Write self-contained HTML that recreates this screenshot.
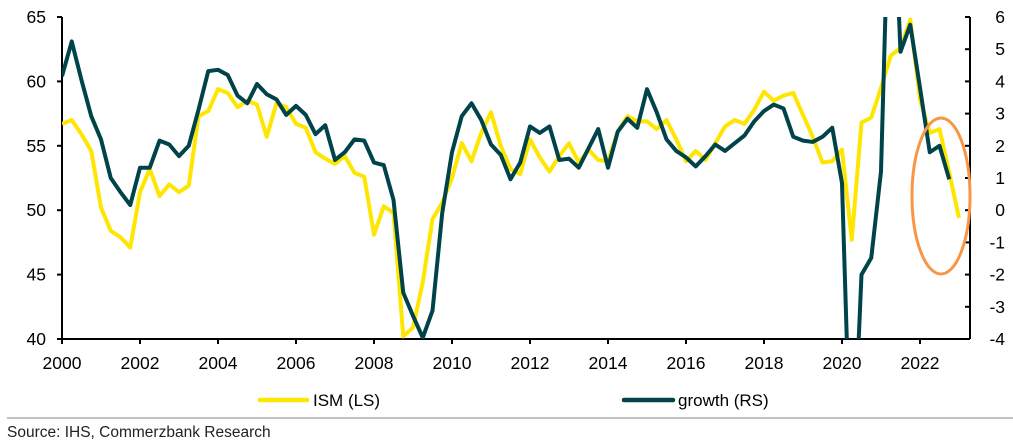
<!DOCTYPE html>
<html><head><meta charset="utf-8"><style>
html,body{margin:0;padding:0;background:#fff;width:1013px;height:443px;overflow:hidden;}
svg{display:block;font-family:"Liberation Sans",Arial,sans-serif;}
</style></head><body>
<svg id="chart" width="1013" height="443" viewBox="0 0 1013 443">
<defs><clipPath id="plotclip"><rect x="62" y="17" width="908" height="322"/></clipPath></defs>
<g id="axes"></g>
<g id="series" clip-path="url(#plotclip)"></g>
<ellipse cx="941" cy="196" rx="29" ry="78" fill="none" stroke="#f79646" stroke-width="3"/>
<g>
<line x1="260" y1="400" x2="307" y2="400" stroke="#ffe600" stroke-width="4.5" stroke-linecap="round"/>
<text x="313" y="406" font-size="17" fill="#000">ISM (LS)</text>
<line x1="624" y1="400" x2="673" y2="400" stroke="#00434a" stroke-width="4.5" stroke-linecap="round"/>
<text x="678" y="406" font-size="17" fill="#000">growth (RS)</text>
</g>
<line x1="7" y1="418" x2="1013" y2="418" stroke="#c0c0c0" stroke-width="2"/>
<text x="7" y="437" font-size="15.5" fill="#222">Source: IHS, Commerzbank Research</text>
</svg>
<script>
const years = [2000,2002,2004,2006,2008,2010,2012,2014,2016,2018,2020,2022];
const leftTicks = [40,45,50,55,60,65];
const rightTicks = [-4,-3,-2,-1,0,1,2,3,4,5,6];
const ism = [56.7,57.0,55.9,54.6,50.2,48.4,47.9,47.1,51.4,53.2,51.1,52.0,51.4,51.9,57.3,57.7,59.4,59.1,58.0,58.5,58.2,55.7,58.3,58.0,56.7,56.4,54.5,54.0,53.6,54.2,52.9,52.6,48.1,50.3,49.8,40.2,40.9,44.4,49.3,50.6,52.5,55.2,53.8,56.0,57.6,55.0,53.2,52.8,55.5,54.1,53.0,54.2,55.2,53.7,54.7,53.9,53.8,56.1,57.3,56.9,56.9,56.3,57.0,55.5,53.8,54.6,53.9,55.2,56.5,57.0,56.7,57.8,59.2,58.5,58.9,59.1,57.4,55.7,53.7,53.8,54.7,47.7,56.8,57.2,59.5,62.0,62.6,64.8,58.6,56.0,56.3,52.9,49.4];
const growth = [4.16,5.24,4.04,2.92,2.2,1.0,0.56,0.16,1.32,1.32,2.16,2.04,1.68,2.0,3.12,4.32,4.36,4.2,3.56,3.32,3.92,3.6,3.44,2.96,3.24,2.96,2.36,2.64,1.56,1.8,2.2,2.16,1.48,1.4,0.32,-2.56,-3.28,-3.96,-3.12,-0.08,1.8,2.92,3.32,2.8,2.04,1.72,0.96,1.48,2.6,2.4,2.6,1.56,1.6,1.32,1.92,2.52,1.32,2.44,2.84,2.56,3.76,3.04,2.2,1.84,1.64,1.36,1.68,2.04,1.84,2.08,2.32,2.76,3.08,3.28,3.16,2.28,2.16,2.12,2.28,2.56,0.84,-9.0,-2.0,-1.48,1.2,12.0,4.92,5.76,3.8,1.8,2.0,0.96];
const NS='http://www.w3.org/2000/svg';
const X0=62, PXYR=39, YT=17, YB=339;
function xq(i){return X0+PXYR*(i/4);}
function xy(yr){return X0+PXYR*(yr-2000);}
function yl(v){return YB-(v-40)/25*(YB-YT);}
function yr(v){return YB-(v+4)/10*(YB-YT);}
function mk(tag,attrs,parent){const e=document.createElementNS(NS,tag);for(const k in attrs)e.setAttribute(k,attrs[k]);parent.appendChild(e);return e;}
const ax=document.getElementById('axes'), se=document.getElementById('series');
let e;
e=mk('line',{x1:X0,y1:YT,x2:X0,y2:YB,stroke:'#000','stroke-width':2},ax);


e=mk('line',{x1:970,y1:YT,x2:970,y2:YB,stroke:'#000','stroke-width':2},ax);


e=mk('line',{x1:X0,y1:YB,x2:970,y2:YB,stroke:'#000','stroke-width':2},ax);


leftTicks.forEach(v=>{
  e=mk('line',{x1:57,y1:yl(v),x2:X0,y2:yl(v),stroke:'#000','stroke-width':2},ax);
  
  
  e=mk('text',{x:46,y:yl(v)+6,'font-size':17.5,'text-anchor':'end',fill:'#000'},ax);
  e.textContent=v;
  
  
});
rightTicks.forEach(v=>{
  e=mk('line',{x1:965,y1:yr(v),x2:970,y2:yr(v),stroke:'#000','stroke-width':2},ax);
  
  
  e=mk('text',{x:1005,y:yr(v)+6,'font-size':17.5,'text-anchor':'end',fill:'#000'},ax);
  e.textContent=v;
  
  
});
years.forEach(y=>{
  e=mk('line',{x1:xy(y),y1:YB,x2:xy(y),y2:YB+5,stroke:'#000','stroke-width':2},ax);
  
  
  e=mk('text',{x:xy(y),y:YB+30,'font-size':17.5,'text-anchor':'middle',fill:'#000'},ax);
  e.textContent=y;
  
  
});
e=mk('polyline',{points:ism.map((v,i)=>xq(i)+','+yl(v)).join(' '),fill:'none',stroke:'#ffe600','stroke-width':4,'stroke-linejoin':'round'},se);


e=mk('polyline',{points:growth.map((v,i)=>xq(i)+','+yr(v)).join(' '),fill:'none',stroke:'#00434a','stroke-width':4,'stroke-linejoin':'round'},se);


</script>
</body></html>
